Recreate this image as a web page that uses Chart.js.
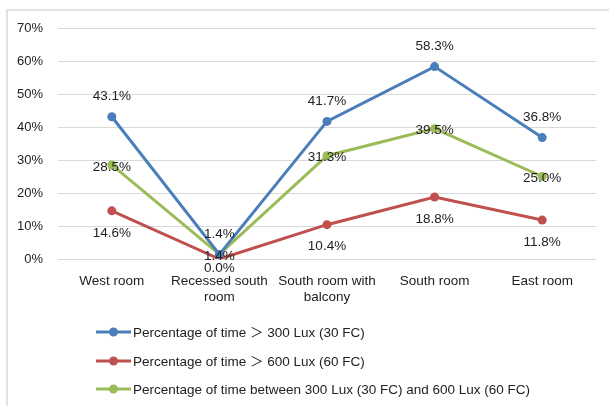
<!DOCTYPE html>
<html>
<head>
<meta charset="utf-8">
<script src="https://cdn.jsdelivr.net/npm/chart.js@4/dist/chart.umd.min.js"></script>
<style>
  html, body { margin: 0; padding: 0; background: #fff; }
  #wrap { position: relative; width: 609px; height: 406px; }
  #frame { position: absolute; left: 6px; top: 9px; right: 0; bottom: 0;
           border-left: 2px solid #e3e3e3; border-top: 2px solid #e3e3e3; }
  canvas { position: absolute; left: 0; top: 0; }
</style>
</head>
<body>
<div id="wrap">
  <div id="frame"></div>
  <canvas id="c" width="609" height="406"></canvas>
</div>
<script>
// Rooms compared
const categories = ['West room', ['Recessed south', 'room'], ['South room with', 'balcony'], 'South room', 'East room'];

// Share of time (%) for each illuminance band
const above300 = [43.1, 1.4, 41.7, 58.3, 36.8];
const above600 = [14.6, 0.0, 10.4, 18.8, 11.8];
const between300and600 = [28.5, 1.4, 31.3, 39.5, 25.0];

const seriesNames = [
  'Percentage of time \uFF1E 300 Lux (30 FC)',
  'Percentage of time \uFF1E 600 Lux (60 FC)',
  'Percentage of time between 300 Lux (30 FC) and 600 Lux (60 FC)'
];

const yTicks = [0, 10, 20, 30, 40, 50, 60, 70];

const FONT = '"Liberation Sans", Arial, "Noto Sans CJK SC", sans-serif';
const colors = ['#4a7ebb', '#c0504d', '#9bbb59'];

// Value labels: above, below or centred on each point
const labelPos = ['above', 'below', 'center'];

const valueLabels = {
  id: 'valueLabels',
  afterDatasetsDraw(chart) {
    const ctx = chart.ctx;
    const bottomLimit = chart.chartArea.bottom + 9;
    ctx.save();
    ctx.font = '13.5px ' + FONT;
    ctx.fillStyle = '#222';
    ctx.textAlign = 'center';
    ctx.textBaseline = 'middle';
    chart.data.datasets.forEach((ds, i) => {
      const meta = chart.getDatasetMeta(i);
      meta.data.forEach((pt, j) => {
        let y = pt.y;
        if (labelPos[i] === 'above') y -= 20;
        else if (labelPos[i] === 'below') y = Math.min(y + 22, bottomLimit);
        else y += 2;
        ctx.fillText(ds.data[j].toFixed(1) + '%', pt.x, y);
      });
    });
    ctx.restore();
  }
};

// Vertical legend in the lower-left area
const stackedLegend = {
  id: 'stackedLegend',
  afterDraw(chart) {
    const ctx = chart.ctx;
    ctx.save();
    ctx.font = '13.5px ' + FONT;
    ctx.textBaseline = 'middle';
    const rows = [332, 361, 389];
    chart.data.datasets.forEach((ds, i) => {
      const y = rows[i];
      ctx.strokeStyle = ds.borderColor;
      ctx.lineWidth = 3;
      ctx.beginPath();
      ctx.moveTo(96, y);
      ctx.lineTo(131, y);
      ctx.stroke();
      ctx.fillStyle = ds.borderColor;
      ctx.beginPath();
      ctx.arc(113.5, y, 4.5, 0, Math.PI * 2);
      ctx.fill();
      ctx.fillStyle = '#222';
      ctx.fillText(ds.label, 133, y + 1);
    });
    ctx.restore();
  }
};

const datasets = [above300, above600, between300and600].map((vals, i) => ({
  label: seriesNames[i],
  data: vals,
  borderColor: colors[i],
  backgroundColor: colors[i],
  borderWidth: 3,
  pointRadius: 4.5,
  pointHoverRadius: 4.5,
  pointBorderWidth: 0,
  tension: 0
}));

new Chart(document.getElementById('c'), {
  type: 'line',
  data: { labels: categories, datasets: datasets },
  options: {
    responsive: false,
    animation: false,
    layout: { padding: { top: 28, right: 13, left: 0, bottom: 0 } },
    plugins: {
      legend: { display: false },
      tooltip: { enabled: false }
    },
    scales: {
      x: {
        offset: true,
        grid: { display: false },
        border: { display: false },
        ticks: { color: '#222', font: { family: FONT, size: 13.5 }, padding: 6, maxRotation: 0, autoSkip: false },
        afterFit(s) { s.height = 147; }
      },
      y: {
        min: 0,
        max: 70,
        afterBuildTicks(s) { s.ticks = yTicks.map(v => ({ value: v })); },
        grid: { color: '#d9d9d9', lineWidth: 1, drawTicks: false },
        border: { display: false },
        ticks: {
          color: '#222',
          font: { family: FONT, size: 13 },
          padding: 15,
          callback: v => v + '%'
        },
        afterFit(s) { s.width = 58; }
      }
    }
  },
  plugins: [valueLabels, stackedLegend]
});
</script>
</body>
</html>
